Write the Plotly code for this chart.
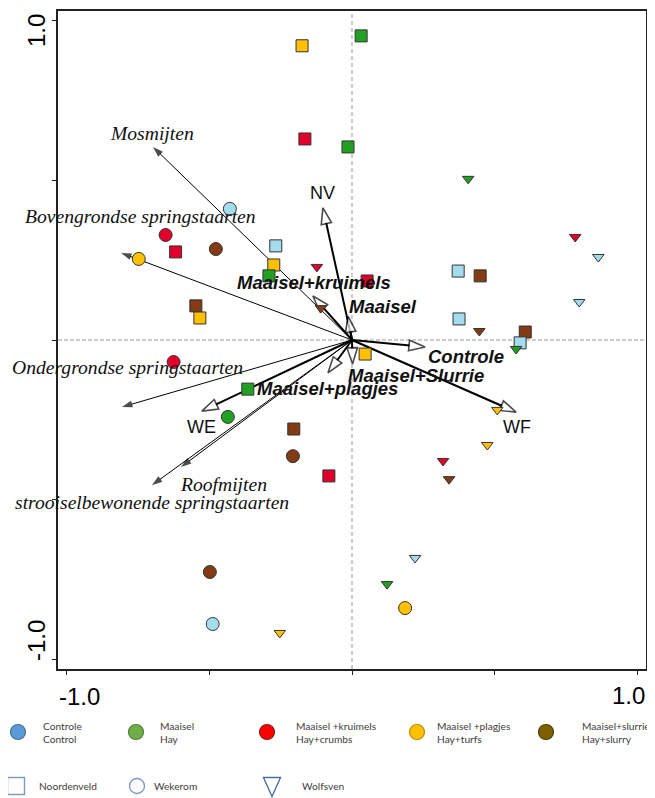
import plotly.graph_objects as go

# The page body adds an 8px margin, so the figure is drawn 8px smaller and
# layout pixel positions below are given in window pixels (offset by OFF).
OFF = 8
WIN_W, WIN_H = 655, 798
W, H = WIN_W - OFF, WIN_H - OFF

# ---------------- data ----------------
treat_codes = ["C", "M", "K", "P", "S"]
treat_legend = ["Controle<br>Control", "Maaisel<br>Hay", "Maaisel +kruimels<br>Hay+crumbs",
                "Maaisel +plagjes<br>Hay+turfs", "Maaisel+slurrie<br>Hay+slurry"]
site_legend = ["Noordenveld", "Wekerom", "Wolfsven"]

# Noordenveld (squares)
nv_treat = ["P", "M", "K", "M", "C", "P", "M", "K", "K", "S", "P", "C", "S", "C", "S", "C", "P", "M", "S", "K"]
nv_x = [-0.175, 0.032, -0.165, -0.014, -0.267, -0.274, -0.291, -0.618, 0.053, -0.547,
        -0.533, 0.372, 0.449, 0.375, 0.607, 0.589, 0.046, -0.365, -0.204, -0.081]
nv_y = [0.922, 0.953, 0.630, 0.605, 0.295, 0.235, 0.201, 0.276, 0.185, 0.107,
        0.069, 0.216, 0.201, 0.066, 0.025, -0.009, -0.044, -0.154, -0.279, -0.426]

# Wekerom (circles)
we_treat = ["C", "K", "P", "S", "K", "M", "S", "S", "C", "P"]
we_x = [-0.428, -0.653, -0.747, -0.477, -0.625, -0.435, -0.207, -0.498, -0.488, 0.186]
we_y = [0.411, 0.329, 0.254, 0.285, -0.069, -0.241, -0.364, -0.727, -0.890, -0.840]

# Wolfsven (triangles)
wf_treat = ["M", "K", "C", "C", "K", "S", "S", "M", "P", "P", "K", "S", "C", "M", "P"]
wf_x = [0.407, 0.782, 0.863, 0.796, -0.123, -0.109, 0.446, 0.575, 0.509, 0.474,
        0.319, 0.340, 0.221, 0.123, -0.253]
wf_y = [0.505, 0.323, 0.260, 0.119, 0.229, 0.100, 0.028, -0.028, -0.219, -0.329,
        -0.379, -0.436, -0.683, -0.765, -0.918]

# species arrows
species = ["Mosmijten", "Bovengrondse springstaarten", "Ondergrondse springstaarten",
           "Roofmijten", "strooiselbewonende springstaarten"]
species_x = [-0.697, -0.809, -0.806, -0.599, -0.701]
species_y = [0.605, 0.273, -0.210, -0.398, -0.455]

# environmental arrows
env = ["NV", "Maaisel+kruimels", "Maaisel", "Controle", "Maaisel+Slurrie", "Maaisel+plagjes", "WE", "WF"]
env_x = [-0.102, -0.137, -0.014, 0.256, 0.002, -0.084, -0.526, 0.575]
env_y = [0.414, 0.138, 0.075, -0.022, -0.075, -0.103, -0.223, -0.226]

tick_vals = [-1.0, -0.5, 0.0, 0.5, 1.0]
tick_text = ["-1.0", "", "", "", "1.0"]

# ---------------- styles ----------------
plot_colors = {"C": "#a3dcec", "M": "#22a022", "K": "#e0002a", "P": "#ffc000", "S": "#823b14"}
legend_colors = ["#5B9BD5", "#70AD47", "#FF0000", "#FFC000", "#7F6000"]
legend_lines = ["#41719C", "#507E32", "#8B1A1A", "#BC8C00", "#4F3C00"]

species_off = [(-1, -13), (19, -36), (6, -40), (42, 17), (0, 17)]
env_off = [(0, -15), (1, -13), (35, -10), (41, 9), (63, 12), (-1, 16), (0, 16), (1, 15)]
env_bold = [False, True, True, True, True, True, False, False]

XR = [-1.03, 1.03]
YR = [-1.031, 1.031]
# plot box in window pixels
plot_left, plot_right, plot_top, plot_bottom = 58, 646, 11, 669

fig = go.Figure()

# species arrows (thin, filled heads)
for name, sx, sy in zip(species, species_x, species_y):
    fig.add_trace(go.Scatter(
        x=[0, sx], y=[0, sy], mode="lines+markers",
        line=dict(color="black", width=1),
        marker=dict(symbol="arrow", size=[0, 11], color="black", angleref="previous",
                    line=dict(width=0)),
        hoverinfo="skip", showlegend=False))

# environmental arrows (thick, open heads)
for name, ex, ey in zip(env, env_x, env_y):
    fig.add_trace(go.Scatter(
        x=[0, ex], y=[0, ey], mode="lines+markers",
        line=dict(color="black", width=2),
        marker=dict(symbol="arrow", size=[0, 17], color="white", angleref="previous",
                    line=dict(color="black", width=1.6)),
        hoverinfo="skip", showlegend=False))

# sample points
for xs, ys, tr, sym, sz in [(nv_x, nv_y, nv_treat, "square", 12),
                            (we_x, we_y, we_treat, "circle", 13),
                            (wf_x, wf_y, wf_treat, "triangle-down", 10)]:
    fig.add_trace(go.Scatter(
        x=xs, y=ys, mode="markers",
        marker=dict(symbol=sym, size=sz, color=[plot_colors[t] for t in tr],
                    line=dict(color="#333333", width=1)),
        hoverinfo="skip", showlegend=False))

ann = []
for name, sx, sy, (dx, dy) in zip(species, species_x, species_y, species_off):
    ann.append(dict(x=sx, y=sy, xref="x", yref="y", text="<i>" + name + "</i>",
                    showarrow=False, xshift=dx, yshift=-dy, xanchor="center", yanchor="middle",
                    font=dict(family="Liberation Serif", size=19.6, color="#111")))
for name, ex, ey, (dx, dy), b in zip(env, env_x, env_y, env_off, env_bold):
    txt = "<b><i>" + name + "</i></b>" if b else name
    ann.append(dict(x=ex, y=ey, xref="x", yref="y", text=txt,
                    showarrow=False, xshift=dx, yshift=-dy, xanchor="center", yanchor="middle",
                    font=dict(family="Liberation Sans", size=18.5 if b else 18, color="#111")))

# tick labels (window-pixel overlay)
tick_font = dict(family="Liberation Sans", size=24, color="black")
ann.append(dict(x=79, y=696, xref="x2", yref="y2", text=tick_text[0], showarrow=False, font=tick_font))
ann.append(dict(x=628, y=695, xref="x2", yref="y2", text=tick_text[-1], showarrow=False, font=tick_font))
ann.append(dict(x=36, y=31, xref="x2", yref="y2", text=tick_text[-1], showarrow=False, textangle=-90, font=tick_font))
ann.append(dict(x=36, y=641, xref="x2", yref="y2", text=tick_text[0], showarrow=False, textangle=-90, font=tick_font))

# legend (window-pixel overlay)
leg_x_sym = [18, 136, 267, 417, 546]
leg_x_txt = [41, 158, 294, 435, 580]
leg_row1, leg_row2 = 732, 786
fig.add_trace(go.Scatter(
    x=leg_x_sym, y=[leg_row1] * 5, xaxis="x2", yaxis="y2", mode="markers",
    marker=dict(symbol="circle", size=15, color=legend_colors, line=dict(color=legend_lines, width=1.2)),
    hoverinfo="skip", showlegend=False))
leg_font = dict(family="Lato", size=10.2, color="#404040")
for xt, txt in zip(leg_x_txt, treat_legend):
    ann.append(dict(x=xt, y=leg_row1, xref="x2", yref="y2", text=txt, showarrow=False,
                    xanchor="left", yanchor="middle", align="left", font=leg_font))
site_sym_x = [16, 137]
site_txt_x = [37, 152, 300]
fig.add_trace(go.Scatter(
    x=site_sym_x, y=[leg_row2] * 2, xaxis="x2", yaxis="y2", mode="markers",
    marker=dict(symbol=["square-open", "circle-open"], size=[17, 15], color="#4a70a8",
                line=dict(width=1.4)),
    hoverinfo="skip", showlegend=False))
for xt, txt in zip(site_txt_x, site_legend):
    ann.append(dict(x=xt, y=leg_row2, xref="x2", yref="y2", text=txt, showarrow=False,
                    xanchor="left", yanchor="middle", font=leg_font))

tri_cx, tri_cy, tri_w, tri_h = 272, 787, 17, 19
shapes = [
    dict(type="line", xref="x", yref="y", x0=0, x1=0, y0=YR[0], y1=YR[1],
         line=dict(color="#999999", width=1, dash="4px,3px"), layer="below"),
    dict(type="line", xref="x", yref="y", x0=XR[0], x1=XR[1], y0=0, y1=0,
         line=dict(color="#999999", width=1, dash="4px,2px"), layer="below"),
    dict(type="path", xref="x2", yref="y2",
         path=f"M {tri_cx - tri_w/2},{tri_cy - tri_h/2} L {tri_cx + tri_w/2},{tri_cy - tri_h/2} L {tri_cx},{tri_cy + tri_h/2} Z",
         line=dict(color="#4a70a8", width=1.4), fillcolor="rgba(0,0,0,0)"),
]

fig.update_layout(
    width=W, height=H, autosize=False,
    margin=dict(l=0, r=0, t=0, b=0),
    paper_bgcolor="white", plot_bgcolor="rgba(0,0,0,0)",
    showlegend=False,
    xaxis=dict(domain=[(plot_left - OFF) / W, (plot_right - OFF) / W], range=XR,
               showgrid=False, zeroline=False,
               showline=True, linecolor="#222", linewidth=1.5, mirror=True,
               tickvals=tick_vals, ticktext=tick_text, showticklabels=False,
               ticks="outside", ticklen=4, tickcolor="#222"),
    yaxis=dict(domain=[1 - (plot_bottom - OFF) / H, 1 - (plot_top - OFF) / H], range=YR,
               showgrid=False, zeroline=False,
               showline=True, linecolor="#222", linewidth=1.5, mirror=True,
               tickvals=tick_vals, ticktext=tick_text, showticklabels=False,
               ticks="outside", ticklen=4, tickcolor="#222"),
    xaxis2=dict(domain=[0, 1], range=[OFF, OFF + W], visible=False, anchor="y2", fixedrange=True),
    yaxis2=dict(domain=[0, 1], range=[OFF + H, OFF], visible=False, anchor="x2", fixedrange=True),
    annotations=ann, shapes=shapes,
)

fig.write_html("out.html")
